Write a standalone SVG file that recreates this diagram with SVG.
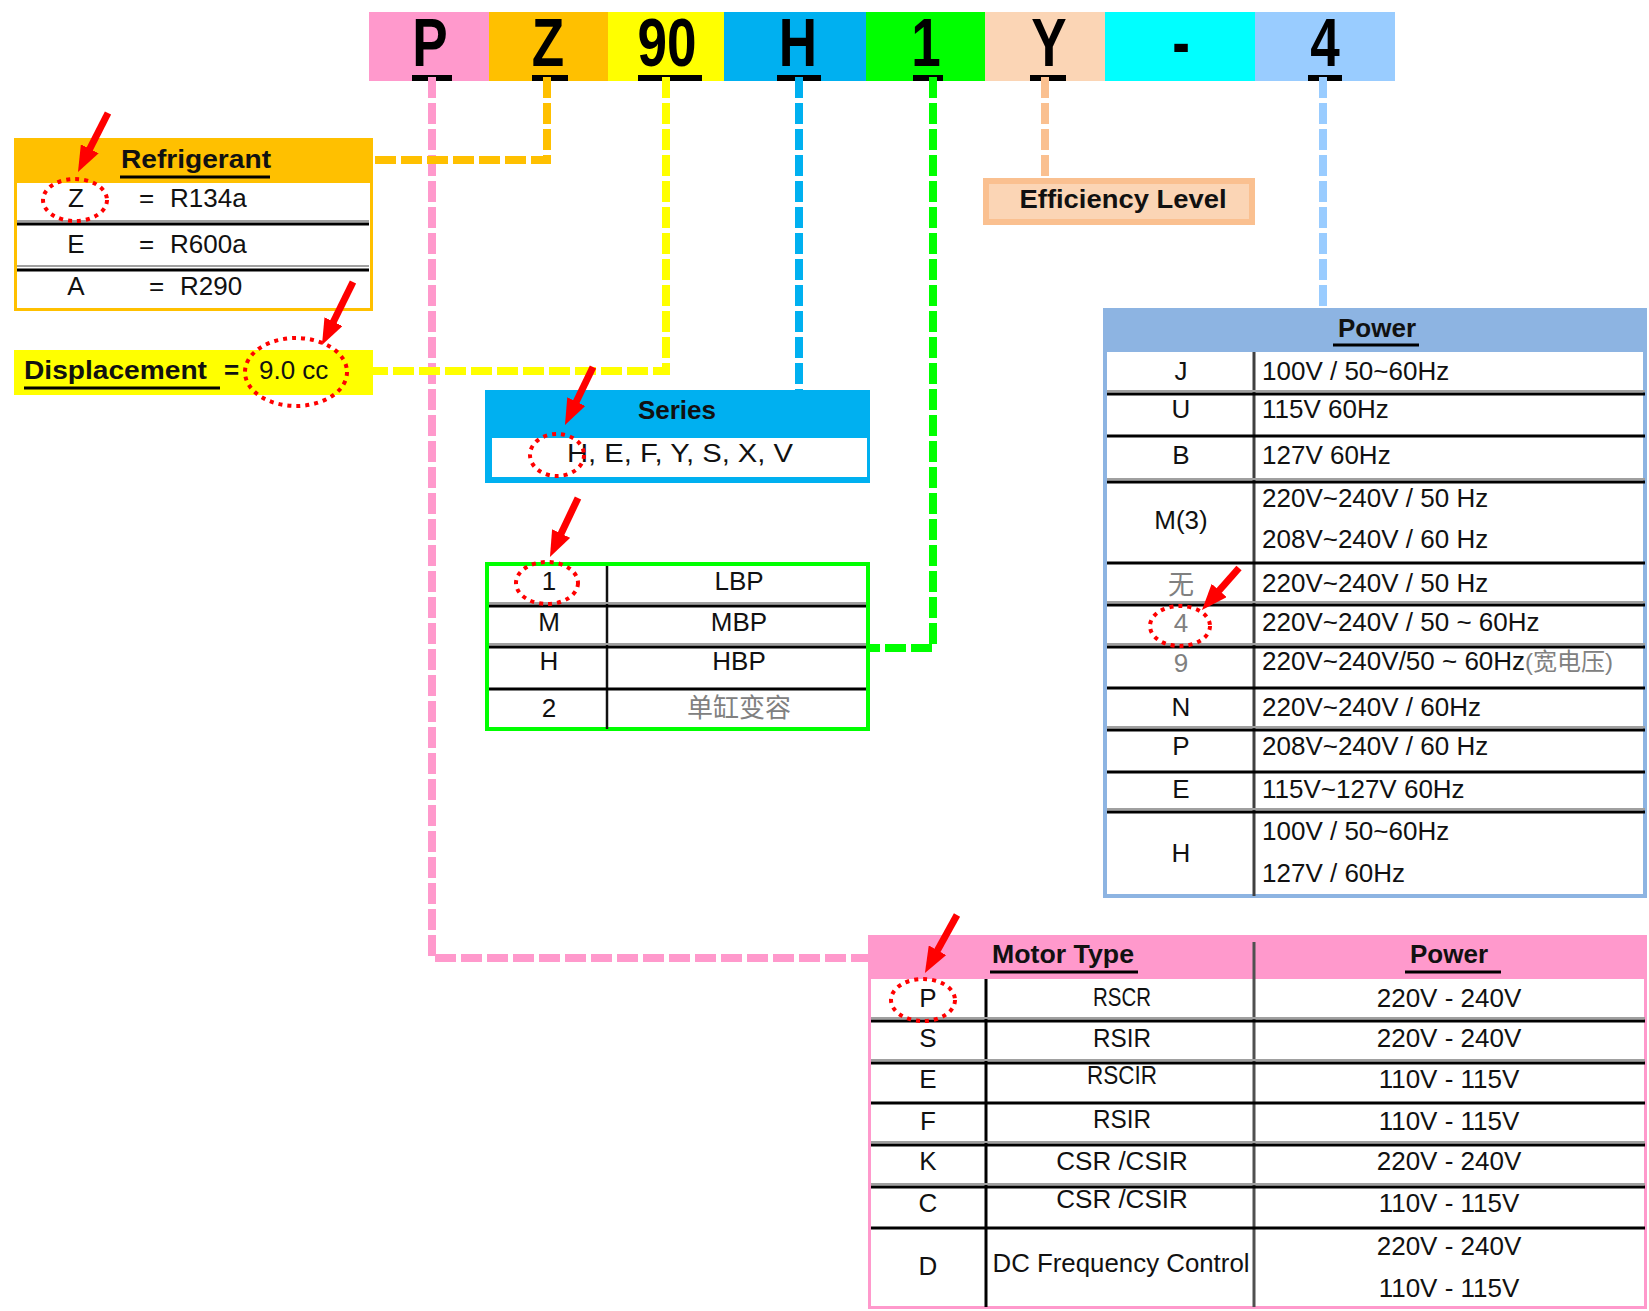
<svg xmlns="http://www.w3.org/2000/svg" width="1649" height="1311" viewBox="0 0 1649 1311">
<style>
.t{font-family:"Liberation Sans","Noto Sans CJK SC",sans-serif;font-size:26px;fill:#111}
.b{font-weight:bold}
.c{text-anchor:middle}
.g{fill:#808080}
.big{font-family:"Liberation Sans",sans-serif;font-size:68px;font-weight:bold;fill:#000;text-anchor:middle}
.sep{stroke:#000;stroke-width:3}
.sepg{stroke:#a0a0a0;stroke-width:2}
.con{fill:none;stroke-width:8;stroke-dasharray:21 5}
.dot{fill:none;stroke:#FF0000;stroke-width:4;stroke-dasharray:4 5}
.arr{stroke:#FF0000;stroke-width:7;marker-end:url(#ah)}
.ul{stroke:#000;stroke-width:3}
</style>
<defs>
<marker id="ah" markerUnits="userSpaceOnUse" markerWidth="26" markerHeight="20" refX="11" refY="10" orient="auto">
<path d="M0,0 L26,10 L0,20 z" fill="#FF0000"/>
</marker>
</defs>
<rect width="1649" height="1311" fill="#fff"/>

<g id="banner">
<rect x="369" y="12" width="120" height="69" fill="#FF99CC"/>
<rect x="489" y="12" width="119" height="69" fill="#FFC000"/>
<rect x="608" y="12" width="116" height="69" fill="#FFFF00"/>
<rect x="724" y="12" width="142" height="69" fill="#00B0F0"/>
<rect x="866" y="12" width="119" height="69" fill="#00FF00"/>
<rect x="985" y="12" width="120" height="69" fill="#FBD5B5"/>
<rect x="1105" y="12" width="150" height="69" fill="#00FFFF"/>
<rect x="1255" y="12" width="140" height="69" fill="#99CCFF"/>
<text class="big" transform="translate(430,66) scale(0.78,1)">P</text>
<text class="big" transform="translate(548,66) scale(0.78,1)">Z</text>
<text class="big" transform="translate(667,66) scale(0.78,1)">90</text>
<text class="big" transform="translate(798,66) scale(0.78,1)">H</text>
<text class="big" transform="translate(926,66) scale(0.78,1)">1</text>
<text class="big" transform="translate(1049,66) scale(0.78,1)">Y</text>
<text class="big" transform="translate(1181,66) scale(0.78,1)">-</text>
<text class="big" transform="translate(1325,66) scale(0.78,1)">4</text>
<rect x="412" y="75" width="40" height="6" fill="#000"/>
<rect x="532" y="75" width="36" height="6" fill="#000"/>
<rect x="638" y="75" width="64" height="6" fill="#000"/>
<rect x="777" y="75" width="44" height="6" fill="#000"/>
<rect x="913" y="75" width="30" height="6" fill="#000"/>
<rect x="1030" y="75" width="36" height="6" fill="#000"/>
<rect x="1308" y="75" width="34" height="6" fill="#000"/>
</g>

<g id="connectors">
<path class="con" stroke="#FF99CC" d="M432,77 V958 H868"/>
<path class="con" stroke="#FFC000" d="M547,77 V160 H373"/>
<path class="con" stroke="#FFFF00" d="M666,77 V371 H373"/>
<path class="con" stroke="#00B0F0" d="M799,77 V390"/>
<path class="con" stroke="#00FF00" d="M933,77 V648 H870"/>
<path class="con" stroke="#FAC090" d="M1045,77 V178"/>
<path class="con" stroke="#99CCFF" d="M1323,77 V308"/>
</g>

<g id="refrigerant">
<rect x="15.5" y="139.5" width="356" height="170" fill="#fff" stroke="#FFC000" stroke-width="3"/>
<rect x="14" y="138" width="359" height="45" fill="#FFC000"/>
<text class="t b c" x="196" y="168" font-size="28" textLength="150" lengthAdjust="spacingAndGlyphs">Refrigerant</text>
<line class="ul" x1="120" y1="177" x2="270" y2="177"/>
<line class="sepg" x1="17" y1="221" x2="369" y2="221"/>
<line class="sep" x1="17" y1="224" x2="369" y2="224"/>
<line class="sepg" x1="17" y1="266" x2="369" y2="266"/>
<line class="sep" x1="17" y1="270" x2="369" y2="270"/>
<text class="t c" x="76" y="207">Z</text>
<text class="t" x="139" y="207">=</text>
<text class="t" x="170" y="207">R134a</text>
<text class="t c" x="76" y="253">E</text>
<text class="t" x="139" y="253">=</text>
<text class="t" x="170" y="253">R600a</text>
<text class="t c" x="76" y="295">A</text>
<text class="t" x="149" y="295">=</text>
<text class="t" x="180" y="295">R290</text>
</g>

<g id="displacement">
<rect x="14" y="350" width="359" height="45" fill="#FFFF00"/>
<text class="t b" x="24" y="379" font-size="28" textLength="183" lengthAdjust="spacingAndGlyphs">Displacement</text>
<line class="ul" x1="24" y1="388" x2="220" y2="388"/>
<text class="t b" x="224" y="379" font-size="28">=</text>
<text class="t" x="259" y="379" font-size="27">9.0 cc</text>
</g>

<g id="series">
<rect x="485" y="390" width="385" height="93" fill="#00B0F0"/>
<rect x="492" y="438" width="375" height="39" fill="#fff"/>
<text class="t b c" x="677" y="419" font-size="28">Series</text>
<text class="t" x="567" y="462" textLength="226" lengthAdjust="spacingAndGlyphs">H, E, F, Y, S, X, V</text>
</g>

<g id="bp-table">
<rect x="487" y="564" width="381" height="165" fill="#fff" stroke="#00FF00" stroke-width="4"/>
<line x1="607" y1="566" x2="607" y2="729" stroke="#111" stroke-width="2.5"/>
<line class="sepg" x1="489" y1="603" x2="866" y2="603"/>
<line class="sep" x1="489" y1="606" x2="866" y2="606"/>
<line class="sepg" x1="489" y1="644" x2="866" y2="644"/>
<line class="sep" x1="489" y1="647" x2="866" y2="647"/>
<line class="sep" x1="489" y1="689" x2="866" y2="689"/>
<text class="t c" x="549" y="590">1</text>
<text class="t c" x="739" y="590">LBP</text>
<text class="t c" x="549" y="631">M</text>
<text class="t c" x="739" y="631">MBP</text>
<text class="t c" x="549" y="670">H</text>
<text class="t c" x="739" y="670">HBP</text>
<text class="t c" x="549" y="717">2</text>
<text class="t c g" x="739" y="717" font-size="24">单缸变容</text>
</g>

<g id="efficiency">
<rect x="986" y="181" width="266" height="41" fill="#FBD5B5" stroke="#FAC090" stroke-width="6"/>
<text class="t b c" x="1123" y="208" font-size="27" textLength="207" lengthAdjust="spacingAndGlyphs">Efficiency Level</text>
</g>

<g id="power-table">
<rect x="1105" y="310" width="540" height="586" fill="#fff" stroke="#8DB4E2" stroke-width="4"/>
<rect x="1103" y="308" width="544" height="44" fill="#8DB4E2"/>
<text class="t b c" x="1377" y="337" font-size="28">Power</text>
<line class="ul" x1="1333" y1="345" x2="1419" y2="345"/>
<line x1="1254" y1="352" x2="1254" y2="896" stroke="#404040" stroke-width="3"/>
<line class="sepg" x1="1107" y1="391" x2="1645" y2="391"/>
<line class="sep" x1="1107" y1="394" x2="1645" y2="394"/>
<line class="sep" x1="1107" y1="436" x2="1645" y2="436"/>
<line class="sepg" x1="1107" y1="479" x2="1645" y2="479"/>
<line class="sep" x1="1107" y1="482" x2="1645" y2="482"/>
<line class="sep" x1="1107" y1="563" x2="1645" y2="563"/>
<line class="sepg" x1="1107" y1="602" x2="1645" y2="602"/>
<line class="sep" x1="1107" y1="605" x2="1645" y2="605"/>
<line class="sepg" x1="1107" y1="644" x2="1645" y2="644"/>
<line class="sep" x1="1107" y1="647" x2="1645" y2="647"/>
<line class="sep" x1="1107" y1="688" x2="1645" y2="688"/>
<line class="sepg" x1="1107" y1="727" x2="1645" y2="727"/>
<line class="sep" x1="1107" y1="730" x2="1645" y2="730"/>
<line class="sep" x1="1107" y1="772" x2="1645" y2="772"/>
<line class="sepg" x1="1107" y1="809" x2="1645" y2="809"/>
<line class="sep" x1="1107" y1="812" x2="1645" y2="812"/>
<text class="t c" x="1181" y="380">J</text>
<text class="t" x="1262" y="380" font-size="27">100V / 50~60Hz</text>
<text class="t c" x="1181" y="418">U</text>
<text class="t" x="1262" y="418" font-size="27">115V 60Hz</text>
<text class="t c" x="1181" y="464">B</text>
<text class="t" x="1262" y="464" font-size="27">127V 60Hz</text>
<text class="t c" x="1181" y="529">M(3)</text>
<text class="t" x="1262" y="507" font-size="27">220V~240V / 50 Hz</text>
<text class="t" x="1262" y="548" font-size="27">208V~240V / 60 Hz</text>
<text class="t c g" x="1181" y="594">无</text>
<text class="t" x="1262" y="592" font-size="27">220V~240V / 50 Hz</text>
<text class="t c g" x="1181" y="632">4</text>
<text class="t" x="1262" y="631" font-size="27">220V~240V / 50 ~ 60Hz</text>
<text class="t c g" x="1181" y="672">9</text>
<text class="t" x="1262" y="670" font-size="27">220V~240V/50 ~ 60Hz<tspan class="g" font-size="24">(宽电压)</tspan></text>
<text class="t c" x="1181" y="716">N</text>
<text class="t" x="1262" y="716" font-size="27">220V~240V / 60Hz</text>
<text class="t c" x="1181" y="755">P</text>
<text class="t" x="1262" y="755" font-size="27">208V~240V / 60 Hz</text>
<text class="t c" x="1181" y="798">E</text>
<text class="t" x="1262" y="798" font-size="27">115V~127V 60Hz</text>
<text class="t c" x="1181" y="862">H</text>
<text class="t" x="1262" y="840" font-size="27">100V / 50~60Hz</text>
<text class="t" x="1262" y="882" font-size="27">127V / 60Hz</text>
</g>

<g id="motor-table">
<rect x="869.5" y="936.5" width="776" height="371" fill="#fff" stroke="#FF99CC" stroke-width="3"/>
<rect x="868" y="935" width="779" height="44" fill="#FF99CC"/>
<text class="t b c" x="1063" y="963" font-size="27" textLength="142" lengthAdjust="spacingAndGlyphs">Motor Type</text>
<line class="ul" x1="990" y1="972" x2="1138" y2="972"/>
<text class="t b c" x="1449" y="963" font-size="28">Power</text>
<line class="ul" x1="1405" y1="972" x2="1501" y2="972"/>
<line x1="1254" y1="942" x2="1254" y2="1307" stroke="#505050" stroke-width="3"/>
<line x1="986" y1="979" x2="986" y2="1307" stroke="#000" stroke-width="3"/>
<line class="sepg" x1="871" y1="1018" x2="1645" y2="1018"/>
<line class="sep" x1="871" y1="1021" x2="1645" y2="1021"/>
<line class="sepg" x1="871" y1="1060" x2="1645" y2="1060"/>
<line class="sep" x1="871" y1="1063" x2="1645" y2="1063"/>
<line class="sep" x1="871" y1="1103" x2="1645" y2="1103"/>
<line class="sepg" x1="871" y1="1142" x2="1645" y2="1142"/>
<line class="sep" x1="871" y1="1145" x2="1645" y2="1145"/>
<line class="sepg" x1="871" y1="1184" x2="1645" y2="1184"/>
<line class="sep" x1="871" y1="1187" x2="1645" y2="1187"/>
<line class="sep" x1="871" y1="1228" x2="1645" y2="1228"/>
<text class="t c" x="928" y="1007" font-size="27">P</text>
<text class="t c" x="1122" y="1006" textLength="58" lengthAdjust="spacingAndGlyphs">RSCR</text>
<text class="t c" x="1449" y="1007" font-size="27">220V - 240V</text>
<text class="t c" x="928" y="1047" font-size="27">S</text>
<text class="t c" x="1122" y="1047" textLength="58" lengthAdjust="spacingAndGlyphs">RSIR</text>
<text class="t c" x="1449" y="1047" font-size="27">220V - 240V</text>
<text class="t c" x="928" y="1088" font-size="27">E</text>
<text class="t c" x="1122" y="1084" textLength="70" lengthAdjust="spacingAndGlyphs">RSCIR</text>
<text class="t c" x="1449" y="1088" font-size="27">110V - 115V</text>
<text class="t c" x="928" y="1130" font-size="27">F</text>
<text class="t c" x="1122" y="1128" textLength="58" lengthAdjust="spacingAndGlyphs">RSIR</text>
<text class="t c" x="1449" y="1130" font-size="27">110V - 115V</text>
<text class="t c" x="928" y="1170" font-size="27">K</text>
<text class="t c" x="1122" y="1170">CSR /CSIR</text>
<text class="t c" x="1449" y="1170" font-size="27">220V - 240V</text>
<text class="t c" x="928" y="1212" font-size="27">C</text>
<text class="t c" x="1122" y="1208">CSR /CSIR</text>
<text class="t c" x="1449" y="1212" font-size="27">110V - 115V</text>
<text class="t c" x="928" y="1275" font-size="27">D</text>
<text class="t c" x="1121" y="1272" textLength="257" lengthAdjust="spacingAndGlyphs">DC Frequency Control</text>
<text class="t c" x="1449" y="1255" font-size="27">220V - 240V</text>
<text class="t c" x="1449" y="1297" font-size="27">110V - 115V</text>
</g>

<g id="highlights">
<ellipse class="dot" cx="75" cy="200" rx="32" ry="21"/>
<ellipse class="dot" cx="296" cy="372" rx="51" ry="34"/>
<ellipse class="dot" cx="557" cy="455" rx="27" ry="21"/>
<ellipse class="dot" cx="547" cy="583" rx="31" ry="21"/>
<ellipse class="dot" cx="1180" cy="626" rx="30" ry="20"/>
<ellipse class="dot" cx="923" cy="1000" rx="32" ry="21"/>
<line class="arr" x1="108" y1="113" x2="84.8" y2="158.6"/>
<line class="arr" x1="353" y1="282" x2="328.6" y2="331.5"/>
<line class="arr" x1="593" y1="367" x2="571.5" y2="411.5"/>
<line class="arr" x1="578" y1="498" x2="556.4" y2="543.4"/>
<line class="arr" x1="1239" y1="568" x2="1211.9" y2="598.7"/>
<line class="arr" x1="957" y1="915" x2="932.2" y2="959.9"/>
</g>
</svg>
